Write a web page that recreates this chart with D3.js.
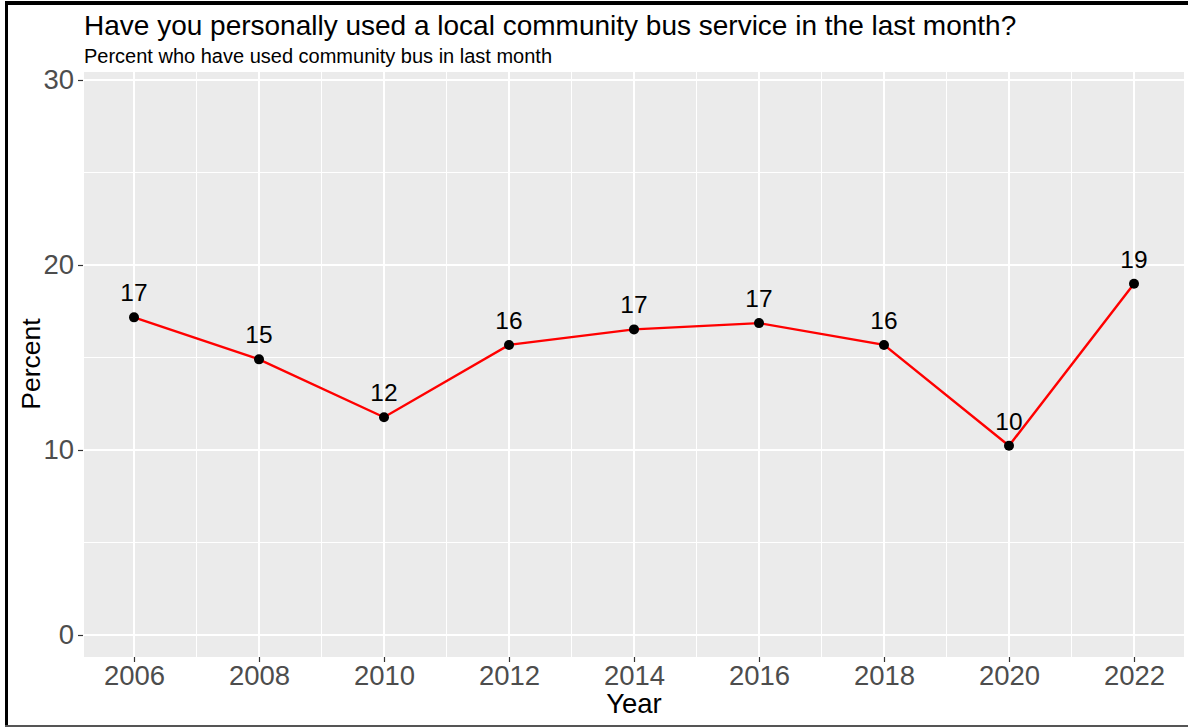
<!DOCTYPE html>
<html>
<head>
<meta charset="utf-8">
<script src="https://cdn.jsdelivr.net/npm/d3@7"></script>
<style>
  html, body { margin: 0; padding: 0; background: #fff; }
  svg { display: block; font-family: "Liberation Sans", Arial, sans-serif; }
</style>
</head>
<body>
<svg id="chart" width="1188" height="727"></svg>
<script>
// Survey results: share of respondents who used a community bus in the last month
const years = [2006, 2008, 2010, 2012, 2014, 2016, 2018, 2020, 2022];
const percent = [17.17, 14.9, 11.77, 15.68, 16.52, 16.86, 15.68, 10.23, 18.99];
const yTicks = [0, 10, 20, 30];
const yMinorTicks = [5, 15, 25];
const xMinorTicks = [2007, 2009, 2011, 2013, 2015, 2017, 2019, 2021];

const titleText = "Have you personally used a local community bus service in the last month?";
const subtitleText = "Percent who have used community bus in last month";

const W = 1188, H = 727;
const panel = { left: 84, right: 1184, top: 72, bottom: 657 };

const svg = d3.select("#chart");

// Frame around the figure
svg.append("rect").attr("x", 0).attr("y", 0).attr("width", W).attr("height", H).attr("fill", "#fff");
svg.append("line").attr("x1", 5).attr("x2", W).attr("y1", 3).attr("y2", 3)
  .attr("stroke", "#000").attr("stroke-width", 4);
svg.append("line").attr("x1", 6.5).attr("x2", 6.5).attr("y1", 1).attr("y2", H)
  .attr("stroke", "#000").attr("stroke-width", 3);
svg.append("line").attr("x1", 5).attr("x2", W).attr("y1", 726).attr("y2", 726)
  .attr("stroke", "#555").attr("stroke-width", 2);

// Scales
const x = d3.scaleLinear().domain([2005.2, 2022.8]).range([panel.left, panel.right]);
const y = d3.scaleLinear().domain([0, 30]).range([635, 80]);

// Panel background
svg.append("rect")
  .attr("x", panel.left).attr("y", panel.top)
  .attr("width", panel.right - panel.left).attr("height", panel.bottom - panel.top)
  .attr("fill", "#EBEBEB");

const grid = svg.append("g");
// Minor grid
grid.selectAll(".ymin").data(yMinorTicks).join("line")
  .attr("x1", panel.left).attr("x2", panel.right)
  .attr("y1", d => y(d)).attr("y2", d => y(d))
  .attr("stroke", "#fff").attr("stroke-width", 1);
grid.selectAll(".xmin").data(xMinorTicks).join("line")
  .attr("y1", panel.top).attr("y2", panel.bottom)
  .attr("x1", d => x(d)).attr("x2", d => x(d))
  .attr("stroke", "#fff").attr("stroke-width", 1);
// Major grid
grid.selectAll(".ymaj").data(yTicks).join("line")
  .attr("x1", panel.left).attr("x2", panel.right)
  .attr("y1", d => y(d)).attr("y2", d => y(d))
  .attr("stroke", "#fff").attr("stroke-width", 2);
grid.selectAll(".xmaj").data(years).join("line")
  .attr("y1", panel.top).attr("y2", panel.bottom)
  .attr("x1", d => x(d)).attr("x2", d => x(d))
  .attr("stroke", "#fff").attr("stroke-width", 2);

// Axes
const yAxis = d3.axisLeft(y).tickValues(yTicks).tickSize(5).tickPadding(4).tickFormat(d3.format("d"));
const gy = svg.append("g").attr("transform", `translate(${panel.left - 1},0)`).call(yAxis);
gy.select(".domain").remove();
gy.selectAll(".tick line").attr("stroke", "#333").attr("stroke-width", 1.2);
gy.selectAll(".tick text").attr("fill", "#4D4D4D").attr("font-size", 27.5)
  .attr("font-family", "Liberation Sans, Arial, sans-serif");

const xAxis = d3.axisBottom(x).tickValues(years).tickSize(5).tickPadding(3).tickFormat(d3.format("d"));
const gx = svg.append("g").attr("transform", `translate(0,${panel.bottom})`).call(xAxis);
gx.select(".domain").remove();
gx.selectAll(".tick line").attr("stroke", "#333").attr("stroke-width", 1.2);
gx.selectAll(".tick text").attr("fill", "#4D4D4D").attr("font-size", 27.5)
  .attr("font-family", "Liberation Sans, Arial, sans-serif");

// Axis titles
svg.append("text").attr("x", x(2014)).attr("y", 713)
  .attr("text-anchor", "middle").attr("font-size", 27.5).attr("fill", "#000").text("Year");
svg.append("text")
  .attr("transform", `translate(40,364) rotate(-90)`)
  .attr("text-anchor", "middle").attr("font-size", 26.5).attr("fill", "#000").text("Percent");

// Titles
svg.append("text").attr("x", 84).attr("y", 35).attr("font-size", 28).attr("fill", "#000").text(titleText);
svg.append("text").attr("x", 84).attr("y", 63).attr("font-size", 20).attr("fill", "#000").text(subtitleText);

// Series
const data = years.map((yr, i) => ({ year: yr, value: percent[i] }));
const line = d3.line().x(d => x(d.year)).y(d => y(d.value));

svg.append("path").datum(data)
  .attr("d", line).attr("fill", "none")
  .attr("stroke", "#FF0000").attr("stroke-width", 2.4);

svg.selectAll(".pt").data(data).join("circle")
  .attr("cx", d => x(d.year)).attr("cy", d => y(d.value))
  .attr("r", 5).attr("fill", "#000");

svg.selectAll(".lbl").data(data).join("text")
  .attr("x", d => x(d.year)).attr("y", d => y(d.value) - 16)
  .attr("text-anchor", "middle").attr("font-size", 24.5).attr("fill", "#000")
  .text(d => d3.format(".0f")(d.value));
</script>
</body>
</html>
